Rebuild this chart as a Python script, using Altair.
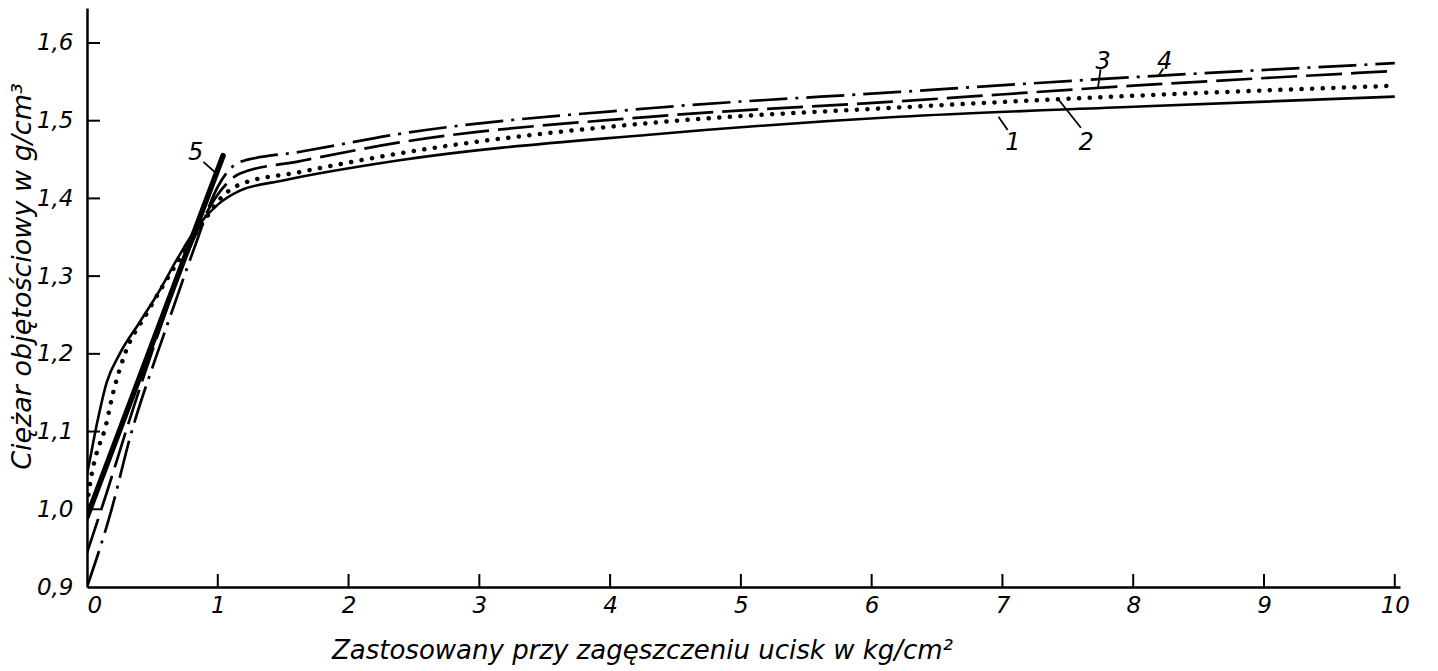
import altair as alt
import pandas as pd

# Compaction curves: bulk density vs. applied pressure
x1 = [0, 0.02, 0.076, 0.15, 0.25, 0.4, 0.55, 0.7, 0.85, 1.0, 1.17, 1.5, 2.39, 4.3, 6.21, 8, 10]
y1 = [1.045, 1.062, 1.11, 1.163, 1.20, 1.24, 1.28, 1.325, 1.365, 1.392, 1.41, 1.423, 1.449, 1.482, 1.505, 1.518, 1.531]

x2 = [0, 0.03, 0.07, 0.14, 0.2, 0.29, 0.46, 0.7, 0.9, 1.0, 1.17, 1.63, 2.39, 4.3, 6.21, 8, 10]
y2 = [1.005, 1.04, 1.07, 1.105, 1.15, 1.20, 1.253, 1.32, 1.372, 1.396, 1.418, 1.434, 1.458, 1.497, 1.517, 1.532, 1.545]

x3 = [0, 0.15, 0.35, 0.53, 0.7, 0.85, 1.0, 1.17, 1.63, 2.39, 4.3, 6.21, 8, 10]
y3 = [0.944, 1.021, 1.128, 1.219, 1.30, 1.36, 1.405, 1.432, 1.448, 1.472, 1.505, 1.525, 1.545, 1.564]

x4 = [0, 0.18, 0.34, 0.53, 0.63, 0.82, 1.0, 1.17, 1.63, 2.39, 4.3, 6.21, 8, 10]
y4 = [0.9, 0.995, 1.099, 1.197, 1.245, 1.336, 1.415, 1.447, 1.46, 1.483, 1.516, 1.537, 1.556, 1.574]

x5 = [0, 1.04]
y5 = [0.99, 1.455]

# Curve numbers and their leader lines
label_text = ["1", "2", "3", "4", "5"]
label_x = [7.08, 7.64, 7.77, 8.24, 0.83]
label_y = [1.471, 1.471, 1.576, 1.576, 1.459]
lead_x = [6.97, 7.43, 7.75, 8.23, 0.89]
lead_y = [1.505, 1.527, 1.566, 1.567, 1.447]
lead_x2 = [7.04, 7.60, 7.73, 8.19, 0.99]
lead_y2 = [1.488, 1.491, 1.542, 1.557, 1.432]

x_ticks = list(range(0, 11))
y_ticks = [0.9, 1.0, 1.1, 1.2, 1.3, 1.4, 1.5, 1.6]

W, H = 1313, 579
X_MIN, X_MAX = 0.0, 10.04
Y_MIN, Y_MAX = 0.9, 1.645
TICK_PX = 13
FONT = "DejaVu Sans"

x_scale = alt.Scale(domain=[X_MIN, X_MAX], nice=False, zero=False)
y_scale = alt.Scale(domain=[Y_MIN, Y_MAX], nice=False, zero=False)

x_axis_main = alt.Axis(
    orient="bottom", values=x_ticks, ticks=False, tickSize=0, grid=False,
    labelExpr="format(datum.value, 'd')", labelFont=FONT, labelFontSize=23,
    labelFontStyle="italic", labelColor="black", labelPadding=7,
    domainColor="black", domainWidth=2.5,
    title="Zastosowany przy zagęszczeniu ucisk w kg/cm²",
    titleFont=FONT, titleFontSize=26, titleFontStyle="italic", titleFontWeight="normal",
    titleColor="black", titleX=555, titleY=63, titleAlign="center", titleBaseline="middle",
)
y_axis_main = alt.Axis(
    orient="left", values=y_ticks, ticks=False, tickSize=0, grid=False,
    labelExpr="replace(format(datum.value, '.1f'), '.', ',')", labelFont=FONT,
    labelFontSize=23, labelFontStyle="italic", labelColor="black", labelPadding=14,
    domainColor="black", domainWidth=2.5,
    title="Ciężar objętościowy w g/cm³",
    titleFont=FONT, titleFontSize=27, titleFontStyle="italic", titleFontWeight="normal",
    titleColor="black", titleX=-65, titleY=268, titleAngle=-90,
    titleAlign="center", titleBaseline="middle",
)


def curve(xs, ys, xaxis=None, yaxis=None, **mark):
    df = pd.DataFrame({"x": xs, "y": ys})
    return alt.Chart(df).mark_line(
        color="black", interpolate="monotone", clip=True, **mark
    ).encode(
        x=alt.X("x:Q", scale=x_scale, axis=xaxis),
        y=alt.Y("y:Q", scale=y_scale, axis=yaxis),
    )


c1 = curve(x1, y1, x_axis_main, y_axis_main, strokeWidth=2.6)
c2 = curve(x2, y2, strokeWidth=4.5, strokeDash=[0.1, 10.5], strokeCap="round")
c3 = curve(x3, y3, strokeWidth=2.7, strokeDash=[36, 9])
c4 = curve(x4, y4, strokeWidth=2.7, strokeDash=[38, 8, 3, 8])
c5 = curve(x5, y5, strokeWidth=5.5, strokeCap="round")

# Inward-pointing tick marks on both axes
x_tick_len = TICK_PX * (Y_MAX - Y_MIN) / H
y_tick_len = TICK_PX * (X_MAX - X_MIN) / W
xt_df = pd.DataFrame({"x": x_ticks[1:], "y": Y_MIN, "y2": Y_MIN + x_tick_len})
yt_df = pd.DataFrame({"y": y_ticks[1:], "x": X_MIN, "x2": X_MIN + y_tick_len})
x_tick_marks = alt.Chart(xt_df).mark_rule(color="black", strokeWidth=2).encode(
    x=alt.X("x:Q", scale=x_scale, axis=None),
    y=alt.Y("y:Q", scale=y_scale, axis=None),
    y2="y2:Q",
)
y_tick_marks = alt.Chart(yt_df).mark_rule(color="black", strokeWidth=2).encode(
    x=alt.X("x:Q", scale=x_scale, axis=None),
    x2="x2:Q",
    y=alt.Y("y:Q", scale=y_scale, axis=None),
)

lead_df = pd.DataFrame({"x": lead_x, "y": lead_y, "x2": lead_x2, "y2": lead_y2})
leaders = alt.Chart(lead_df).mark_rule(color="black", strokeWidth=1.8).encode(
    x=alt.X("x:Q", scale=x_scale, axis=None),
    y=alt.Y("y:Q", scale=y_scale, axis=None),
    x2="x2:Q",
    y2="y2:Q",
)

lab_df = pd.DataFrame({"t": label_text, "x": label_x, "y": label_y})
labels = alt.Chart(lab_df).mark_text(
    font=FONT, fontSize=24, fontStyle="italic", color="black",
    align="center", baseline="middle",
).encode(
    x=alt.X("x:Q", scale=x_scale, axis=None),
    y=alt.Y("y:Q", scale=y_scale, axis=None),
    text="t:N",
)

chart = alt.layer(
    c1, c2, c3, c4, c5, x_tick_marks, y_tick_marks, leaders, labels
).resolve_axis(
    x="independent", y="independent"
).properties(
    width=W, height=H,
    padding={"left": 87, "top": 8, "right": 38, "bottom": 84},
    autosize=alt.AutoSizeParams(type="none"),
    background="white",
).configure_view(stroke=None)

chart.save("out.html", embed_options={"renderer": "svg", "actions": False})
